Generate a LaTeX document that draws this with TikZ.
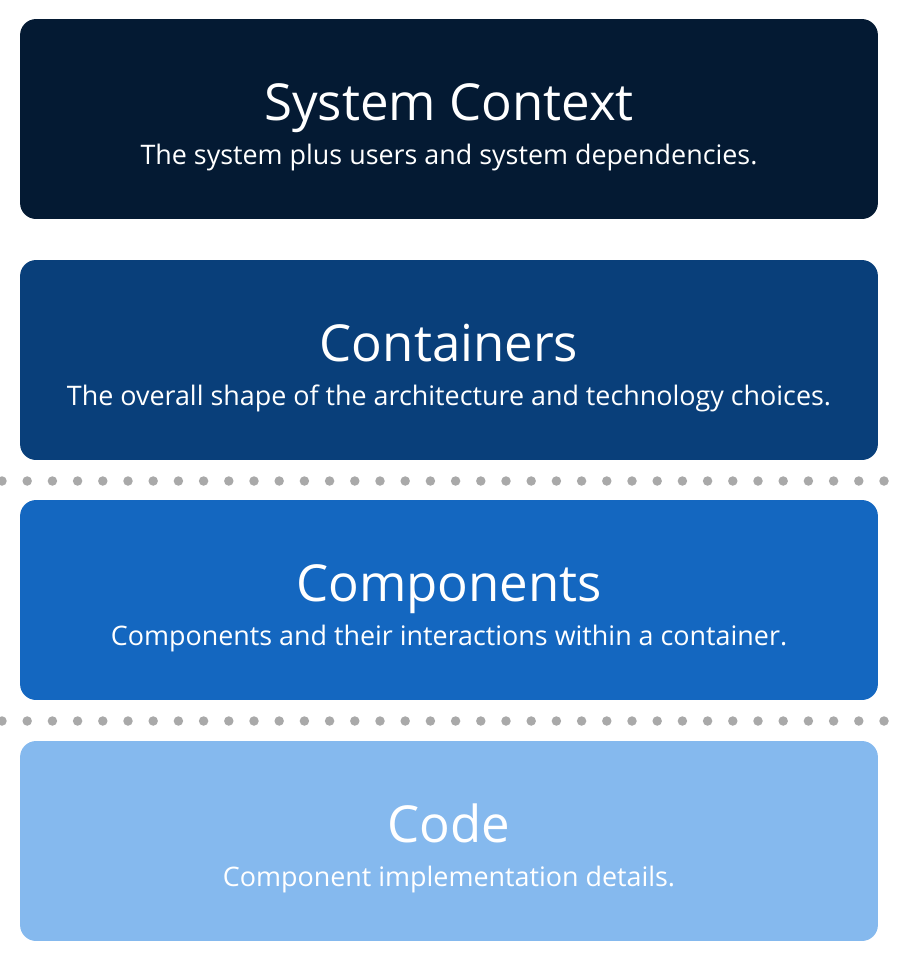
\documentclass[tikz,border=0pt]{standalone}
\usepackage{fontspec}
\setmainfont{Open Sans}
\usepackage{xcolor}

\definecolor{contextcol}{HTML}{041A33}
\definecolor{containercol}{HTML}{093F7A}
\definecolor{componentcol}{HTML}{1467C0}
\definecolor{codecol}{HTML}{85B9EE}
\definecolor{dotcol}{HTML}{A9A9A9}

\tikzset{
  layer/.style={rounded corners=0.32cm, minimum width=17.16cm, minimum height=4cm, inner sep=0pt},
  title/.style={text=white, font=\fontsize{29}{34}\selectfont, anchor=base},
  subtitle/.style={text=white, font=\fontsize{15.3}{18}\selectfont, anchor=base}
}

\begin{document}
\begin{tikzpicture}[x=0.02cm,y=-0.02cm]
\useasboundingbox (0,0) rectangle (904,961);

% the four levels
\node[layer, fill=contextcol] (context) at (449,119) {};
\node[title] (contexttitle) at (449,120) {System Context};
\node[subtitle] (contextsub) at (449,164) {The system plus users and system dependencies.};

\node[layer, fill=containercol] (container) at (449,360) {};
\node[title] (containertitle) at (449,361) {Containers};
\node[subtitle] (containersub) at (449,405) {The overall shape of the architecture and technology choices.};

\node[layer, fill=componentcol] (component) at (449,600) {};
\node[title] (componenttitle) at (449,601) {Components};
\node[subtitle] (componentsub) at (449,645) {Components and their interactions within a container.};

\node[layer, fill=codecol] (code) at (449,841) {};
\node[title] (codetitle) at (449,842) {Code};
\node[subtitle] (codesub) at (449,886) {Component implementation details.};

% dotted separators
\foreach \i in {0,...,35} {
  \fill[dotcol] (2+25.2*\i,481) circle[radius=0.095cm];
  \fill[dotcol] (2+25.2*\i,721) circle[radius=0.095cm];
}
\end{tikzpicture}
\end{document}
